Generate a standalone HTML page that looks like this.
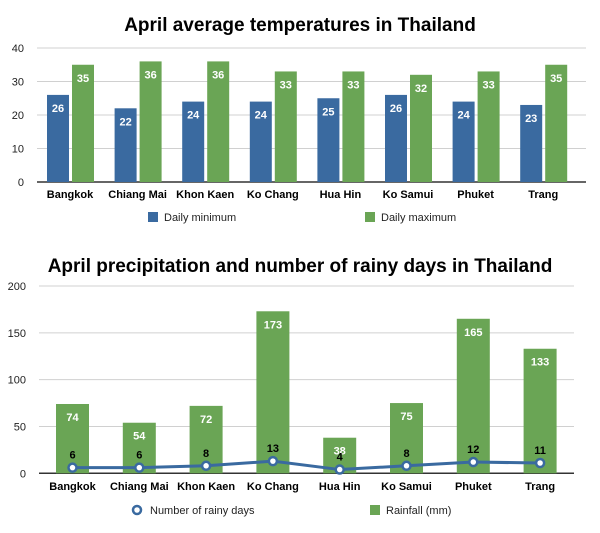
<!DOCTYPE html>
<html><head><meta charset="utf-8"><style>
body{margin:0;background:#fff;}
svg text{font-family:"Liberation Sans",Arial,sans-serif;}
</style></head><body>
<svg id="s" width="600" height="528" xmlns="http://www.w3.org/2000/svg">
<text x="300" y="31" font-size="19" font-weight="bold" text-anchor="middle" fill="#000">April average temperatures in Thailand</text>
<text x="300" y="272" font-size="19" font-weight="bold" text-anchor="middle" fill="#000">April precipitation and number of rainy days in Thailand</text>
</svg>
<script>
const s=document.getElementById('s');const NS='http://www.w3.org/2000/svg';
function el(t,a,txt){const e=document.createElementNS(NS,t);for(const k in a)e.setAttribute(k,a[k]);if(txt!==undefined)e.textContent=txt;s.appendChild(e);return e;}
const cats=['Bangkok','Chiang Mai','Khon Kaen','Ko Chang','Hua Hin','Ko Samui','Phuket','Trang'];
const mn=[26,22,24,24,25,26,24,23],mx=[35,36,36,33,33,32,33,35];
const rain=[74,54,72,173,38,75,165,133],days=[6,6,8,13,4,8,12,11];
const blue='#3a6aa0',green='#6aa555';
// top chart
const y0=182,ky=3.35;
for(let i=0;i<=4;i++){const y=y0-i*10*ky;el('line',{x1:37,x2:586,y1:y,y2:y,stroke:i?'#d0d0d0':'#333','stroke-width':i?1:1.5});el('text',{x:24,y:y+4,'font-size':11,'text-anchor':'end',fill:'#222'},i*10);}
cats.forEach((c,i)=>{const cx=70+i*67.6;
el('rect',{x:cx-23,y:y0-mn[i]*ky,width:22,height:mn[i]*ky,fill:blue});
el('rect',{x:cx+2,y:y0-mx[i]*ky,width:22,height:mx[i]*ky,fill:green});
el('text',{x:cx-12,y:y0-mn[i]*ky+17,'font-size':11,'font-weight':'bold','text-anchor':'middle',fill:'#fff'},mn[i]);
el('text',{x:cx+13,y:y0-mx[i]*ky+17,'font-size':11,'font-weight':'bold','text-anchor':'middle',fill:'#fff'},mx[i]);
el('text',{x:cx,y:198,'font-size':11,'font-weight':'bold','text-anchor':'middle',fill:'#000'},c);});
el('rect',{x:148,y:212,width:10,height:10,fill:blue});el('text',{x:164,y:221,'font-size':11,fill:'#222'},'Daily minimum');
el('rect',{x:365,y:212,width:10,height:10,fill:green});el('text',{x:381,y:221,'font-size':11,fill:'#222'},'Daily maximum');
// bottom chart
const b0=473.3,kb=0.9365;
for(let i=0;i<=4;i++){const y=b0-i*50*kb;el('line',{x1:39,x2:574,y1:y,y2:y,stroke:i?'#d0d0d0':'#333','stroke-width':i?1:1.5});el('text',{x:26,y:y+4,'font-size':11,'text-anchor':'end',fill:'#222'},i*50);}
let pts=[];
cats.forEach((c,i)=>{const cx=72.5+i*66.8;
el('rect',{x:cx-16.5,y:b0-rain[i]*kb,width:33,height:rain[i]*kb,fill:green});
el('text',{x:cx,y:b0-rain[i]*kb+17,'font-size':11,'font-weight':'bold','text-anchor':'middle',fill:'#fff'},rain[i]);
el('text',{x:cx,y:486+4,'font-size':11,'font-weight':'bold','text-anchor':'middle',fill:'#000'},c);
pts.push([cx,b0-days[i]*kb]);});
el('polyline',{points:pts.map(p=>p.join(',')).join(' '),fill:'none',stroke:blue,'stroke-width':3});
pts.forEach((p,i)=>{el('circle',{cx:p[0],cy:p[1],r:4,fill:'#fff',stroke:blue,'stroke-width':2.5});
el('text',{x:p[0],y:p[1]-9,'font-size':11,'font-weight':'bold','text-anchor':'middle',fill:'#000'},days[i]);});
el('circle',{cx:137,cy:510,r:4,fill:'#fff',stroke:blue,'stroke-width':2.5});
el('text',{x:150,y:514,'font-size':11,fill:'#222'},'Number of rainy days');
el('rect',{x:370,y:505,width:10,height:10,fill:green});el('text',{x:386,y:514,'font-size':11,fill:'#222'},'Rainfall (mm)');
</script>
</body></html>
